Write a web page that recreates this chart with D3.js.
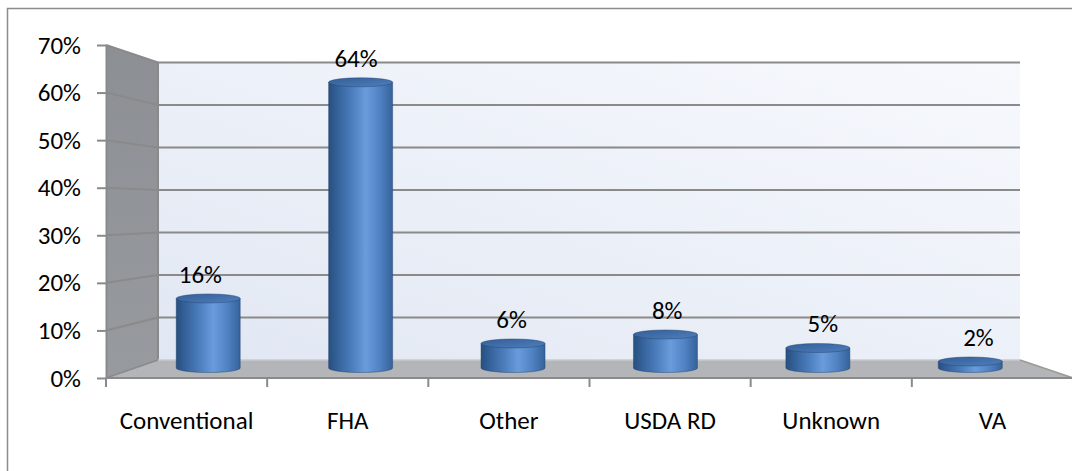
<!DOCTYPE html>
<html>
<head>
<meta charset="utf-8">
<script src="https://cdn.jsdelivr.net/npm/d3@7"></script>
<style>
  html, body { margin: 0; padding: 0; background: #ffffff; }
  svg text { font-family: Carlito, Calibri, Lato, "Open Sans", sans-serif; fill: #000; }
</style>
</head>
<body>
<svg id="chart" width="1072" height="471"></svg>
<script>
// Loan type shares
const categories = ["Conventional", "FHA", "Other", "USDA RD", "Unknown", "VA"];
const shares = [16, 64, 6, 8, 5, 2];
const valueLabels = ["16%", "64%", "6%", "8%", "5%", "2%"];
const yTicks = [0, 10, 20, 30, 40, 50, 60, 70];

const svg = d3.select("#chart");
const defs = svg.append("defs");
const fontSize = 25;

// Planes of the 3D box: front edge, back wall, and the depth the cylinders stand at
const yFront = d3.scaleLinear().domain([0, 70]).range([378, 45]);
const yBack = d3.scaleLinear().domain([0, 70]).range([360, 62.5]);
const yMid = d3.scaleLinear().domain([0, 70]).range([369, 53.75]);
const xFront = d3.scaleBand().domain(categories).range([106, 1073]);
const xBack = d3.scaleBand().domain(categories).range([158, 1020]);
const xMid = d3.scaleBand().domain(categories).range([132, 1046.5]);
const xLab = d3.scaleBand().domain(categories).range([122.6, 1056.2]);

const gridColor = "#8a8a8a";

// Gradients
const wallGrad = defs.append("linearGradient").attr("id", "wall")
  .attr("x1", "0%").attr("y1", "100%").attr("x2", "100%").attr("y2", "0%");
wallGrad.append("stop").attr("offset", "0%").attr("stop-color", "#e1e7f3");
wallGrad.append("stop").attr("offset", "100%").attr("stop-color", "#f7f9fd");

const sideGrad = defs.append("linearGradient").attr("id", "side")
  .attr("x1", "0%").attr("y1", "0%").attr("x2", "0%").attr("y2", "100%");
sideGrad.append("stop").attr("offset", "0%").attr("stop-color", "#8c8f94");
sideGrad.append("stop").attr("offset", "100%").attr("stop-color", "#979a9e");

const bodyGrad = defs.append("linearGradient").attr("id", "body")
  .attr("x1", "0%").attr("y1", "0%").attr("x2", "100%").attr("y2", "0%");
[["0%", "#27507f"], ["12%", "#335f97"], ["35%", "#4a7cbb"], ["58%", "#6a9cdc"],
 ["78%", "#5385c6"], ["100%", "#34629b"]].forEach(([o, c]) =>
  bodyGrad.append("stop").attr("offset", o).attr("stop-color", c));

const topGrad = defs.append("linearGradient").attr("id", "top")
  .attr("x1", "0%").attr("y1", "0%").attr("x2", "100%").attr("y2", "100%");
topGrad.append("stop").attr("offset", "0%").attr("stop-color", "#335e96");
topGrad.append("stop").attr("offset", "100%").attr("stop-color", "#4f7fbd");

// Outer frame
svg.append("path")
  .attr("d", "M7.5,471 L7.5,8.5 L1072,8.5")
  .attr("fill", "none").attr("stroke", "#8c8c8c").attr("stroke-width", 1.5);

// Back wall
const x0b = xBack.range()[0], x1b = xBack.range()[1];
const x0f = xFront.range()[0], x1f = xFront.range()[1];
svg.append("rect")
  .attr("x", x0b).attr("y", yBack(70))
  .attr("width", x1b - x0b).attr("height", yBack(0) - yBack(70))
  .attr("fill", "url(#wall)");

// Side wall
svg.append("path")
  .attr("d", `M${x0f},${yFront(70)} L${x0b},${yBack(70)} L${x0b},${yBack(0)} L${x0f},${yFront(0)} Z`)
  .attr("fill", "url(#side)");

// Floor
svg.append("path")
  .attr("d", `M${x0f},${yFront(0)} L${x0b},${yBack(0)} L${x1b},${yBack(0)} L${x1f},${yFront(0)} Z`)
  .attr("fill", "#b3b5b8");

// Gridlines on back wall and side wall
const grid = svg.append("g").attr("stroke", gridColor).attr("stroke-width", 2).attr("fill", "none");
yTicks.filter(d => d > 0).forEach(d => {
  grid.append("line").attr("x1", x0b).attr("x2", x1b).attr("y1", yBack(d)).attr("y2", yBack(d));
  grid.append("line").attr("x1", x0f).attr("x2", x0b).attr("y1", yFront(d)).attr("y2", yBack(d));
});
// Box edges
grid.append("line").attr("x1", x0b).attr("x2", x0b).attr("y1", yBack(70)).attr("y2", yBack(0));
grid.append("line").attr("x1", x0f).attr("x2", x0b).attr("y1", yFront(0)).attr("y2", yBack(0))
  .attr("stroke-width", 1.5);
svg.append("line").attr("x1", x0b).attr("x2", x1b).attr("y1", yBack(0)).attr("y2", yBack(0))
  .attr("stroke", "#c9cbce").attr("stroke-width", 1.5);
svg.append("line").attr("x1", x1b).attr("x2", x1f).attr("y1", yBack(0)).attr("y2", yFront(0))
  .attr("stroke", "#9a9a9a").attr("stroke-width", 1.5);

// Value axis
const yAxis = d3.axisLeft(yFront)
  .tickValues(yTicks)
  .tickFormat(d => d + "%")
  .tickSize(9)
  .tickPadding(16)
  .tickSizeOuter(0);
const yAxisG = svg.append("g").attr("transform", `translate(${x0f},0)`).call(yAxis);
yAxisG.select(".domain").attr("stroke", gridColor).attr("stroke-width", 2);
yAxisG.selectAll(".tick line").attr("stroke", gridColor).attr("stroke-width", 2);
yAxisG.selectAll(".tick text").attr("font-size", fontSize).attr("font-family", null);

// Category axis: front edge with ticks between categories
svg.append("line").attr("x1", x0f).attr("x2", x1f).attr("y1", yFront(0)).attr("y2", yFront(0))
  .attr("stroke", gridColor).attr("stroke-width", 2);
const boundaries = categories.map(c => xFront(c)).concat([x1f]);
svg.append("g").selectAll("line").data(boundaries).join("line")
  .attr("x1", d => d).attr("x2", d => d)
  .attr("y1", yFront(0)).attr("y2", yFront(0) + 9)
  .attr("stroke", gridColor).attr("stroke-width", 2);
svg.append("g").selectAll("text").data(categories).join("text")
  .attr("x", c => xFront(c) + xFront.bandwidth() / 2)
  .attr("y", 429)
  .attr("text-anchor", "middle")
  .attr("font-size", fontSize)
  .text(c => c);

// Cylinders
const barW = 64, ry = 4.5;
const bars = svg.append("g").selectAll("g").data(categories).join("g");
bars.each(function (c, i) {
  const g = d3.select(this);
  const cx = xMid(c) + xMid.bandwidth() / 2;
  const yTop = yMid(shares[i]) + 1.5;
  const yBot = yMid(0) - 1;
  g.append("path")
    .attr("d", `M${cx - barW / 2},${yTop} L${cx - barW / 2},${yBot}
                A${barW / 2},${ry} 0 0 0 ${cx + barW / 2},${yBot}
                L${cx + barW / 2},${yTop} Z`)
    .attr("fill", "url(#body)")
    .attr("stroke", "rgba(35,65,105,0.55)").attr("stroke-width", 0.8);
  g.append("ellipse")
    .attr("cx", cx).attr("cy", yTop).attr("rx", barW / 2).attr("ry", ry)
    .attr("fill", "url(#top)")
    .attr("stroke", "rgba(35,65,105,0.55)").attr("stroke-width", 0.8);
});

// Value labels
svg.append("g").selectAll("text").data(categories).join("text")
  .attr("x", c => xLab(c) + xLab.bandwidth() / 2)
  .attr("y", (c, i) => yMid(shares[i]) - 14)
  .attr("text-anchor", "middle")
  .attr("font-size", fontSize)
  .text((c, i) => valueLabels[i]);
</script>
</body>
</html>
